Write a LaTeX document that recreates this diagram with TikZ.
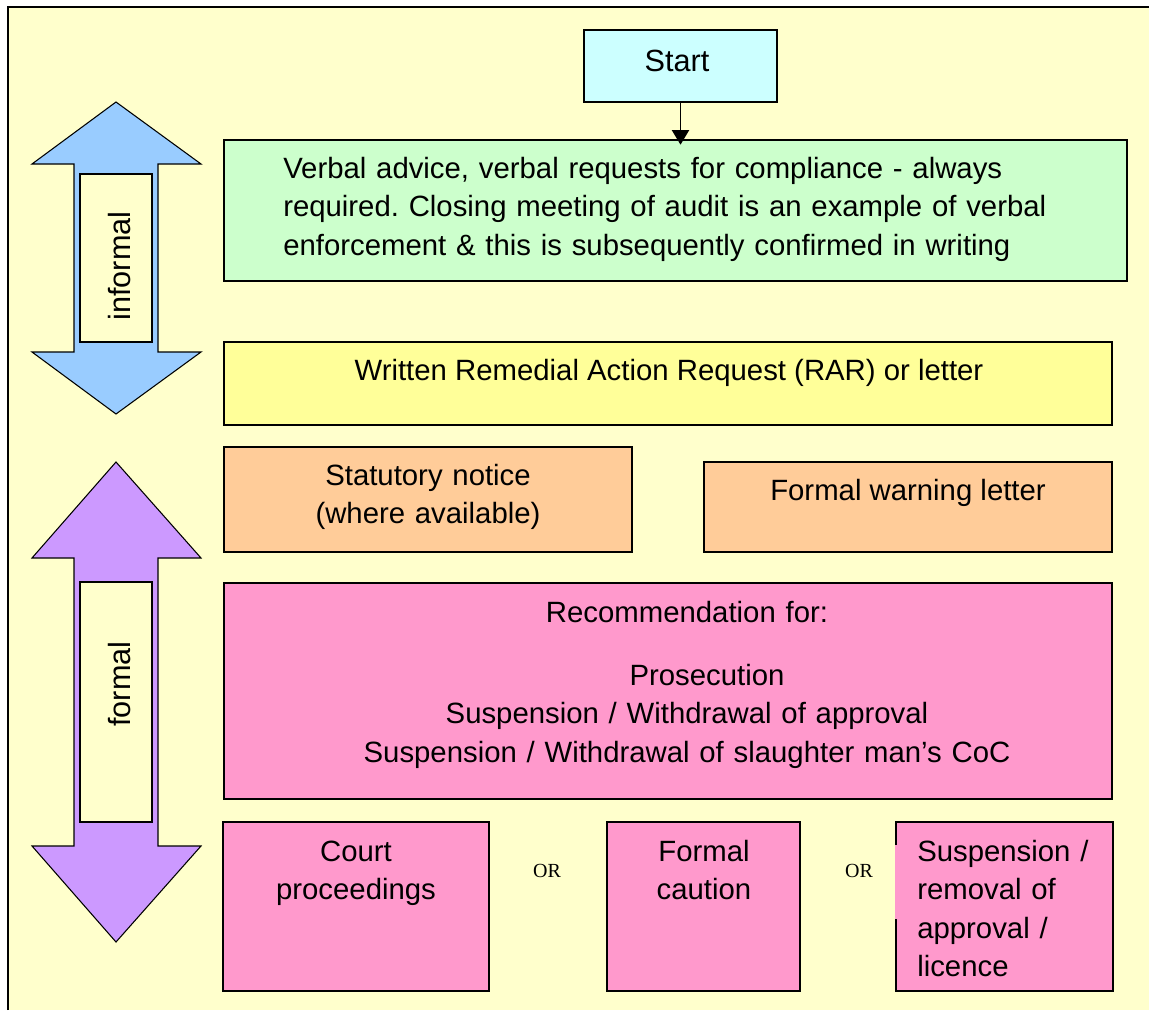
\documentclass[tikz,border=0pt]{standalone}
\usepackage{fontspec}
\setmainfont{Liberation Sans}
\newfontfamily\orfont{Liberation Serif}
\usetikzlibrary{arrows.meta,fit}
\frenchspacing

\definecolor{pagebg}{HTML}{FFFFCC}
\definecolor{startcyan}{HTML}{CCFFFF}
\definecolor{verbalgreen}{HTML}{CCFFCC}
\definecolor{raryellow}{HTML}{FFFF99}
\definecolor{noticeorange}{HTML}{FFCC99}
\definecolor{actionpink}{HTML}{FF99CC}
\definecolor{informalblue}{HTML}{99CCFF}
\definecolor{formalpurple}{HTML}{CC99FF}

\begin{document}
\begin{tikzpicture}[x=0.75pt, y=-0.75pt,
        box/.style={draw=black, line width=1pt, inner sep=0pt},
        txt/.style={font=\fontsize{22pt}{28.9pt}\selectfont, inner sep=0pt},
        bigtxt/.style={font=\fontsize{23pt}{28pt}\selectfont, inner sep=0pt},
        ortxt/.style={font=\orfont\fontsize{15pt}{18pt}\selectfont, inner sep=0pt},
        dblarrow/.style={draw=black, line width=0.8pt}]
        \useasboundingbox (0,0) rectangle (1149,1010);
        \fill[pagebg] (8,7) rectangle (1149,1010);
        \draw[line width=1.3pt] (8,1010) -- (8,7) -- (1149,7);

        \draw[dblarrow, fill=informalblue] (116,102) -- (201,164) -- (158,164) -- (158,352) -- (201,352)
            -- (116,414) -- (32,352) -- (74,352) -- (74,164) -- (32,164) -- cycle;
        \node[box, line width=0.8pt, fill=pagebg, fit={(80,174) (152,342)}] (informal) {};
        \node[bigtxt, rotate=90] (informal-lbl) at (120,266) {informal};

        \draw[dblarrow, fill=formalpurple] (116,462) -- (201,558) -- (158,558) -- (158,846) -- (201,846)
            -- (116,942) -- (32,846) -- (74,846) -- (74,558) -- (32,558) -- cycle;
        \node[box, line width=0.8pt, fill=pagebg, fit={(80,582) (152,822)}] (formal) {};
        \node[bigtxt, rotate=90] (formal-lbl) at (120,684) {formal};

        \node[box, fill=startcyan, fit={(584,30) (777,102)}] (start) {};
        \node[bigtxt, anchor=base] (start-lbl) at (677,71) {Start};

        \node[box, fill=verbalgreen, fit={(224,140) (1127,281)}] (verbal) {};
        \node[txt, text width=600pt, align=left, anchor=base west] (verbal-lbl) at (283,178)
            {Verbal advice, verbal requests for compliance - always\\
             required. Closing meeting of audit is an example of verbal\\
             enforcement \& this is subsequently confirmed in writing};

        \draw[line width=1pt, -{Triangle[width=13pt,length=11pt]}, shorten >=-4pt]
            (start.south) -- (start.south |- verbal.north);

        \node[box, fill=raryellow, fit={(224,342) (1112,425)}] (rar) {};
        \node[txt, anchor=base] (rar-lbl) at (669,380) {Written Remedial Action Request (RAR) or letter};

        \node[box, fill=noticeorange, fit={(224,447) (632,552)}] (notice) {};
        \node[txt, text width=300pt, align=center, anchor=base] (notice-lbl) at (428,485)
            {Statutory notice\\(where available)};

        \node[box, fill=noticeorange, fit={(704,462) (1112,552)}] (warning) {};
        \node[txt, anchor=base] (warning-lbl) at (908,500) {Formal warning letter};

        \node[box, fill=actionpink, fit={(224,583) (1112,799)}] (recommend) {};
        \node[txt, text width=640pt, align=center, anchor=base] (recommend-lbl) at (687,622)
            {Recommendation for:\\[18.4pt]
             \hspace*{30pt}Prosecution\\
             Suspension / Withdrawal of approval\\
             Suspension / Withdrawal of slaughter man’s CoC};

        \node[box, fill=actionpink, fit={(223,822) (489,991)}] (court) {};
        \node[txt, text width=200pt, align=center, anchor=base] (court-lbl) at (356,861)
            {Court\\proceedings};

        \node[box, fill=actionpink, fit={(607,822) (800,991)}] (caution) {};
        \node[txt, text width=140pt, align=center, anchor=base] (caution-lbl) at (704,861)
            {Formal\\caution};

        \node[box, fill=actionpink, fit={(896,822) (1113,991)}] (suspend) {};
        \fill[actionpink] (895,845) rectangle (897.5,919);
        \node[txt, text width=150pt, align=left, anchor=base west] (suspend-lbl) at (917,861)
            {Suspension /\\removal of\\approval /\\licence};

        \node[ortxt, anchor=base] (or-a) at (547,877) {OR};
        \node[ortxt, anchor=base] (or-b) at (859,877) {OR};
    \end{tikzpicture}
\end{document}
